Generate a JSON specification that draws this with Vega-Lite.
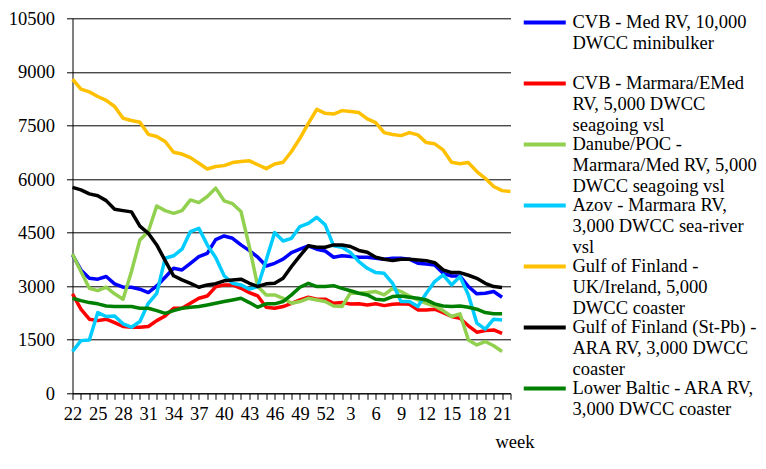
{
  "$schema": "https://vega.github.io/schema/vega-lite/v6.json",
  "width": 438,
  "height": 375,
  "autosize": {"type": "none"},
  "padding": {"left": 72.5, "top": 18.3, "right": 255.5, "bottom": 75.7},
  "background": "white",
  "config": {"view": {"stroke": null}, "font": "Times New Roman"},
  "data": {
    "values": [
      {"week": "22", "med": 3875, "emed": 2785, "danube": 3900, "azov": 1170, "gofuk": 8800, "gofara": 5765, "baltic": 2660},
      {"week": "23", "med": 3455, "emed": 2355, "danube": 3410, "azov": 1475, "gofuk": 8515, "gofara": 5695, "baltic": 2595},
      {"week": "24", "med": 3220, "emed": 2075, "danube": 2940, "azov": 1495, "gofuk": 8440, "gofara": 5585, "baltic": 2540},
      {"week": "25", "med": 3195, "emed": 2035, "danube": 2875, "azov": 2260, "gofuk": 8310, "gofara": 5530, "baltic": 2505},
      {"week": "26", "med": 3270, "emed": 2075, "danube": 2970, "azov": 2150, "gofuk": 8200, "gofara": 5395, "baltic": 2445},
      {"week": "27", "med": 3065, "emed": 1980, "danube": 2785, "azov": 2165, "gofuk": 8030, "gofara": 5155, "baltic": 2430},
      {"week": "28", "med": 2970, "emed": 1870, "danube": 2635, "azov": 1945, "gofuk": 7700, "gofara": 5115, "baltic": 2430},
      {"week": "29", "med": 2970, "emed": 1850, "danube": 3410, "azov": 1850, "gofuk": 7640, "gofara": 5080, "baltic": 2430},
      {"week": "30", "med": 2915, "emed": 1850, "danube": 4295, "azov": 2010, "gofuk": 7590, "gofara": 4680, "baltic": 2380},
      {"week": "31", "med": 2820, "emed": 1870, "danube": 4530, "azov": 2520, "gofuk": 7250, "gofara": 4480, "baltic": 2380},
      {"week": "32", "med": 3005, "emed": 2035, "danube": 5245, "azov": 2800, "gofuk": 7190, "gofara": 4155, "baltic": 2315},
      {"week": "33", "med": 3250, "emed": 2165, "danube": 5115, "azov": 3780, "gofuk": 7050, "gofara": 3715, "baltic": 2240},
      {"week": "34", "med": 3500, "emed": 2380, "danube": 5040, "azov": 3850, "gofuk": 6750, "gofara": 3290, "baltic": 2315},
      {"week": "35", "med": 3455, "emed": 2380, "danube": 5115, "azov": 4035, "gofuk": 6700, "gofara": 3175, "baltic": 2380},
      {"week": "36", "med": 3640, "emed": 2520, "danube": 5415, "azov": 4530, "gofuk": 6600, "gofara": 3080, "baltic": 2410},
      {"week": "37", "med": 3830, "emed": 2660, "danube": 5340, "azov": 4620, "gofuk": 6440, "gofara": 2970, "baltic": 2430},
      {"week": "38", "med": 3920, "emed": 2725, "danube": 5510, "azov": 4155, "gofuk": 6280, "gofara": 3035, "baltic": 2475},
      {"week": "39", "med": 4305, "emed": 2980, "danube": 5745, "azov": 3800, "gofuk": 6350, "gofara": 3070, "baltic": 2520},
      {"week": "40", "med": 4405, "emed": 3035, "danube": 5390, "azov": 3290, "gofuk": 6375, "gofara": 3150, "baltic": 2570},
      {"week": "41", "med": 4340, "emed": 3035, "danube": 5310, "azov": 3080, "gofuk": 6460, "gofara": 3175, "baltic": 2615},
      {"week": "42", "med": 4155, "emed": 2940, "danube": 5090, "azov": 3035, "gofuk": 6490, "gofara": 3195, "baltic": 2660},
      {"week": "43", "med": 3995, "emed": 2820, "danube": 4100, "azov": 2915, "gofuk": 6510, "gofara": 3080, "baltic": 2540},
      {"week": "44", "med": 3810, "emed": 2725, "danube": 2990, "azov": 2990, "gofuk": 6400, "gofara": 2990, "baltic": 2410},
      {"week": "45", "med": 3565, "emed": 2410, "danube": 2755, "azov": 3735, "gofuk": 6290, "gofara": 3065, "baltic": 2505},
      {"week": "46", "med": 3640, "emed": 2380, "danube": 2755, "azov": 4500, "gofuk": 6420, "gofara": 3080, "baltic": 2505},
      {"week": "47", "med": 3755, "emed": 2430, "danube": 2660, "azov": 4265, "gofuk": 6470, "gofara": 3220, "baltic": 2570},
      {"week": "48", "med": 3940, "emed": 2520, "danube": 2520, "azov": 4340, "gofuk": 6770, "gofara": 3550, "baltic": 2755},
      {"week": "49", "med": 4035, "emed": 2615, "danube": 2570, "azov": 4670, "gofuk": 7140, "gofara": 3850, "baltic": 2970},
      {"week": "50", "med": 4130, "emed": 2690, "danube": 2660, "azov": 4760, "gofuk": 7560, "gofara": 4130, "baltic": 3080},
      {"week": "51", "med": 4035, "emed": 2635, "danube": 2615, "azov": 4930, "gofuk": 7950, "gofara": 4090, "baltic": 2990},
      {"week": "52", "med": 3985, "emed": 2635, "danube": 2570, "azov": 4715, "gofuk": 7840, "gofara": 4090, "baltic": 2990},
      {"week": "1", "med": 3810, "emed": 2520, "danube": 2445, "azov": 4130, "gofuk": 7820, "gofara": 4155, "baltic": 3015},
      {"week": "2", "med": 3850, "emed": 2540, "danube": 2430, "azov": 4090, "gofuk": 7915, "gofara": 4155, "baltic": 2940},
      {"week": "3", "med": 3830, "emed": 2500, "danube": 2810, "azov": 3940, "gofuk": 7890, "gofara": 4110, "baltic": 2870},
      {"week": "4", "med": 3810, "emed": 2505, "danube": 2800, "azov": 3690, "gofuk": 7860, "gofara": 4000, "baltic": 2800},
      {"week": "5", "med": 3810, "emed": 2475, "danube": 2820, "azov": 3500, "gofuk": 7685, "gofara": 3950, "baltic": 2755},
      {"week": "6", "med": 3780, "emed": 2505, "danube": 2850, "azov": 3380, "gofuk": 7580, "gofara": 3810, "baltic": 2635},
      {"week": "7", "med": 3755, "emed": 2455, "danube": 2755, "azov": 3360, "gofuk": 7300, "gofara": 3755, "baltic": 2615},
      {"week": "8", "med": 3780, "emed": 2495, "danube": 2940, "azov": 3080, "gofuk": 7245, "gofara": 3715, "baltic": 2710},
      {"week": "9", "med": 3780, "emed": 2505, "danube": 2850, "azov": 2570, "gofuk": 7215, "gofara": 3755, "baltic": 2725},
      {"week": "10", "med": 3755, "emed": 2495, "danube": 2725, "azov": 2570, "gofuk": 7300, "gofara": 3755, "baltic": 2690},
      {"week": "11", "med": 3640, "emed": 2335, "danube": 2615, "azov": 2430, "gofuk": 7235, "gofara": 3735, "baltic": 2660},
      {"week": "12", "med": 3620, "emed": 2335, "danube": 2520, "azov": 2800, "gofuk": 7020, "gofara": 3715, "baltic": 2615},
      {"week": "13", "med": 3595, "emed": 2355, "danube": 2445, "azov": 3130, "gofuk": 6985, "gofara": 3660, "baltic": 2505},
      {"week": "14", "med": 3360, "emed": 2260, "danube": 2315, "azov": 3315, "gofuk": 6815, "gofara": 3455, "baltic": 2445},
      {"week": "15", "med": 3285, "emed": 2150, "danube": 2150, "azov": 3035, "gofuk": 6470, "gofara": 3380, "baltic": 2430},
      {"week": "16", "med": 3285, "emed": 2100, "danube": 2225, "azov": 3270, "gofuk": 6430, "gofara": 3380, "baltic": 2445},
      {"week": "17", "med": 2990, "emed": 1890, "danube": 1495, "azov": 2755, "gofuk": 6460, "gofara": 3305, "baltic": 2410},
      {"week": "18", "med": 2785, "emed": 1710, "danube": 1355, "azov": 1965, "gofuk": 6210, "gofara": 3220, "baltic": 2355},
      {"week": "19", "med": 2800, "emed": 1755, "danube": 1450, "azov": 1795, "gofuk": 6020, "gofara": 3080, "baltic": 2260},
      {"week": "20", "med": 2850, "emed": 1775, "danube": 1330, "azov": 2075, "gofuk": 5790, "gofara": 2990, "baltic": 2225},
      {"week": "21", "med": 2690, "emed": 1680, "danube": 1170, "azov": 2055, "gofuk": 5675, "gofara": 2960, "baltic": 2225},
      {"week": " 22", "gofuk": 5650}
    ]
  },
  "transform": [
    {"fold": ["med", "emed", "danube", "azov", "gofuk", "gofara", "baltic"], "as": ["series", "value"]},
    {"filter": {"field": "value", "valid": true}}
  ],
  "mark": {"type": "line", "strokeWidth": 3.5, "strokeJoin": "round"},
  "encoding": {
    "x": {
      "field": "week",
      "type": "ordinal",
      "scale": {
        "type": "point",
        "padding": 0,
        "domain": ["22","23","24","25","26","27","28","29","30","31","32","33","34","35","36","37","38","39","40","41","42","43","44","45","46","47","48","49","50","51","52","1","2","3","4","5","6","7","8","9","10","11","12","13","14","15","16","17","18","19","20","21"," 22"]
      },
      "axis": {
        "title": "week",
        "titleFontSize": 18.5,
        "titleFontWeight": "normal",
        "titleColor": "black",
        "titleX": 442,
        "titleY": 54,
        "titleAlign": "center",
        "titleBaseline": "alphabetic",
        "labelExpr": "indexof(['22','25','28','31','34','37','40','43','46','49','52','3','6','9','12','15','18','21'], datum.value) >= 0 ? datum.value : ''",
        "labelAngle": 0,
        "labelFontSize": 18.5,
        "labelColor": "black",
        "labelPadding": 5,
        "labelOverlap": false,
        "domainColor": "black",
        "tickColor": "black",
        "tickSize": 6,
        "grid": false
      }
    },
    "y": {
      "field": "value",
      "type": "quantitative",
      "scale": {"domain": [0, 10500], "nice": false},
      "axis": {
        "title": null,
        "values": [0, 1500, 3000, 4500, 6000, 7500, 9000, 10500],
        "format": "d",
        "grid": true,
        "gridColor": "black",
        "gridOpacity": 1,
        "domainColor": "black",
        "tickColor": "black",
        "tickSize": 6,
        "labelFontSize": 18.5,
        "labelColor": "black",
        "labelPadding": 12
      }
    },
    "color": {
      "field": "series",
      "type": "nominal",
      "scale": {
        "domain": ["med", "emed", "danube", "azov", "gofuk", "gofara", "baltic"],
        "range": ["#0000FF", "#FF0000", "#92D050", "#00CCFF", "#FFC000", "#000000", "#008000"]
      },
      "legend": {
        "title": null,
        "orient": "none",
        "legendX": 463,
        "legendY": -5,
        "padding": 0,
        "symbolType": "M-10,0H10",
        "symbolSize": 17.64,
        "symbolStrokeWidth": 4,
        "labelFontSize": 18.5,
        "labelColor": "black",
        "labelLimit": 300,
        "labelOffset": 18.5,
        "labelBaseline": "top",
        "rowPadding": 0,
        "labelExpr": "{'med': ['CVB - Med RV, 10,000', 'DWCC minibulker', ' '], 'emed': ['CVB - Marmara/EMed', 'RV, 5,000 DWCC', 'seagoing vsl'], 'danube': ['Danube/POC -', 'Marmara/Med RV, 5,000', 'DWCC seagoing vsl'], 'azov': ['Azov - Marmara RV,', '3,000 DWCC sea-river', 'vsl'], 'gofuk': ['Gulf of Finland -', 'UK/Ireland, 5,000', 'DWCC coaster'], 'gofara': ['Gulf of Finland (St-Pb) -', 'ARA RV, 3,000 DWCC', 'coaster'], 'baltic': ['Lower Baltic - ARA RV,', '3,000 DWCC coaster']}[datum.value]",
        "encode": {"labels": {"update": {"lineHeight": {"value": 21}, "dy": {"value": -10}}}}
      }
    },
    "order": {"value": null}
  }
}
